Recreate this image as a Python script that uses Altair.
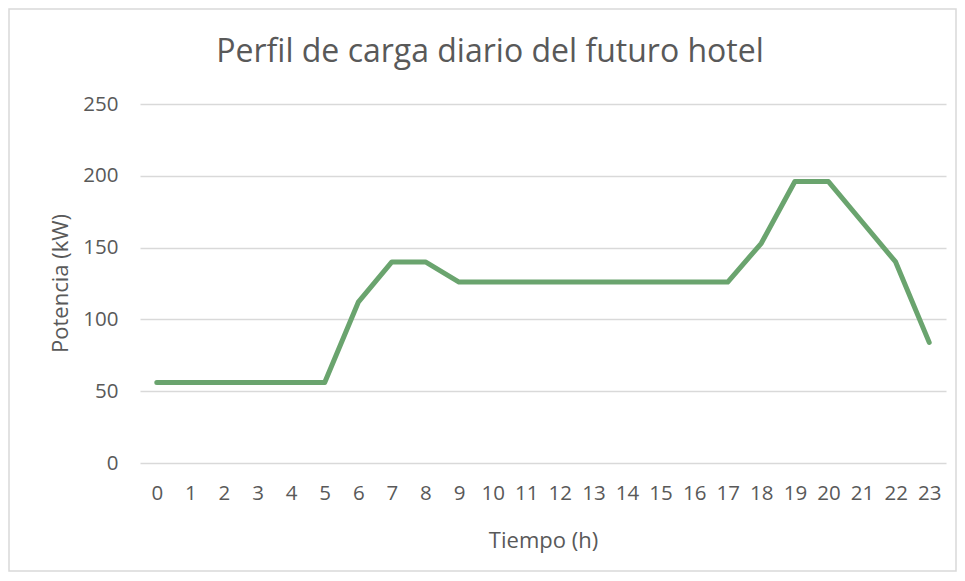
import altair as alt
import pandas as pd

hours = list(range(24))
potencia = [56, 56, 56, 56, 56, 56, 112, 140, 140, 126, 126, 126, 126, 126,
            126, 126, 126, 126, 153, 196, 196, 168, 140, 84]
titulo = ["Perfil de carga diario del futuro hotel"]

df = pd.DataFrame({"hora": hours, "potencia": potencia})
df_title = pd.DataFrame({"t": titulo})

FONT = "Open Sans"
GREY = "#595959"

line = alt.Chart(df).mark_line(color="#6aa46e", strokeWidth=5, strokeCap="round", strokeJoin="round").encode(
    x=alt.X("hora:O",
            scale=alt.Scale(type="point", padding=0.5),
            axis=alt.Axis(title="Tiempo (h)", labelAngle=0, ticks=False, domain=False,
                          grid=False, labelPadding=20, labelFontSize=20.5,
                          titleFontSize=22, titleFontWeight="normal",
                          titleY=77, titleBaseline="middle")),
    y=alt.Y("potencia:Q",
            scale=alt.Scale(domain=[0, 250]),
            axis=alt.Axis(title="Potencia (kW)", values=[0, 50, 100, 150, 200, 250],
                          ticks=False, domain=False, labelPadding=22,
                          labelFontSize=20.5, titleFontSize=22, titleFontWeight="normal",
                          titleX=-80, titleY=179, titleAngle=-90,
                          titleBaseline="middle", titleAlign="center",
                          gridColor="#d9d9d9", gridWidth=1.3)),
)

border = alt.Chart(df_title).mark_rect(fill="transparent", stroke="#d9d9d9", strokeWidth=1.5).encode(
    x=alt.value(-131), x2=alt.value(816), y=alt.value(-95), y2=alt.value(467)
)

title = alt.Chart(df_title).mark_text(font=FONT, fontSize=32, color=GREY,
                                      align="center", baseline="alphabetic").encode(
    text="t:N", x=alt.value(350), y=alt.value(-42)
)

chart = alt.layer(border, line, title).properties(
    width=806,
    height=359,
    autosize=alt.AutoSizeParams(type="none"),
    padding={"left": 132, "top": 96, "right": 11, "bottom": 110},
    background="white",
).configure_view(stroke=None).configure_axis(
    labelFont=FONT, titleFont=FONT, labelColor=GREY, titleColor=GREY
)

chart.save("out.html", embed_options={"renderer": "svg", "actions": False})
